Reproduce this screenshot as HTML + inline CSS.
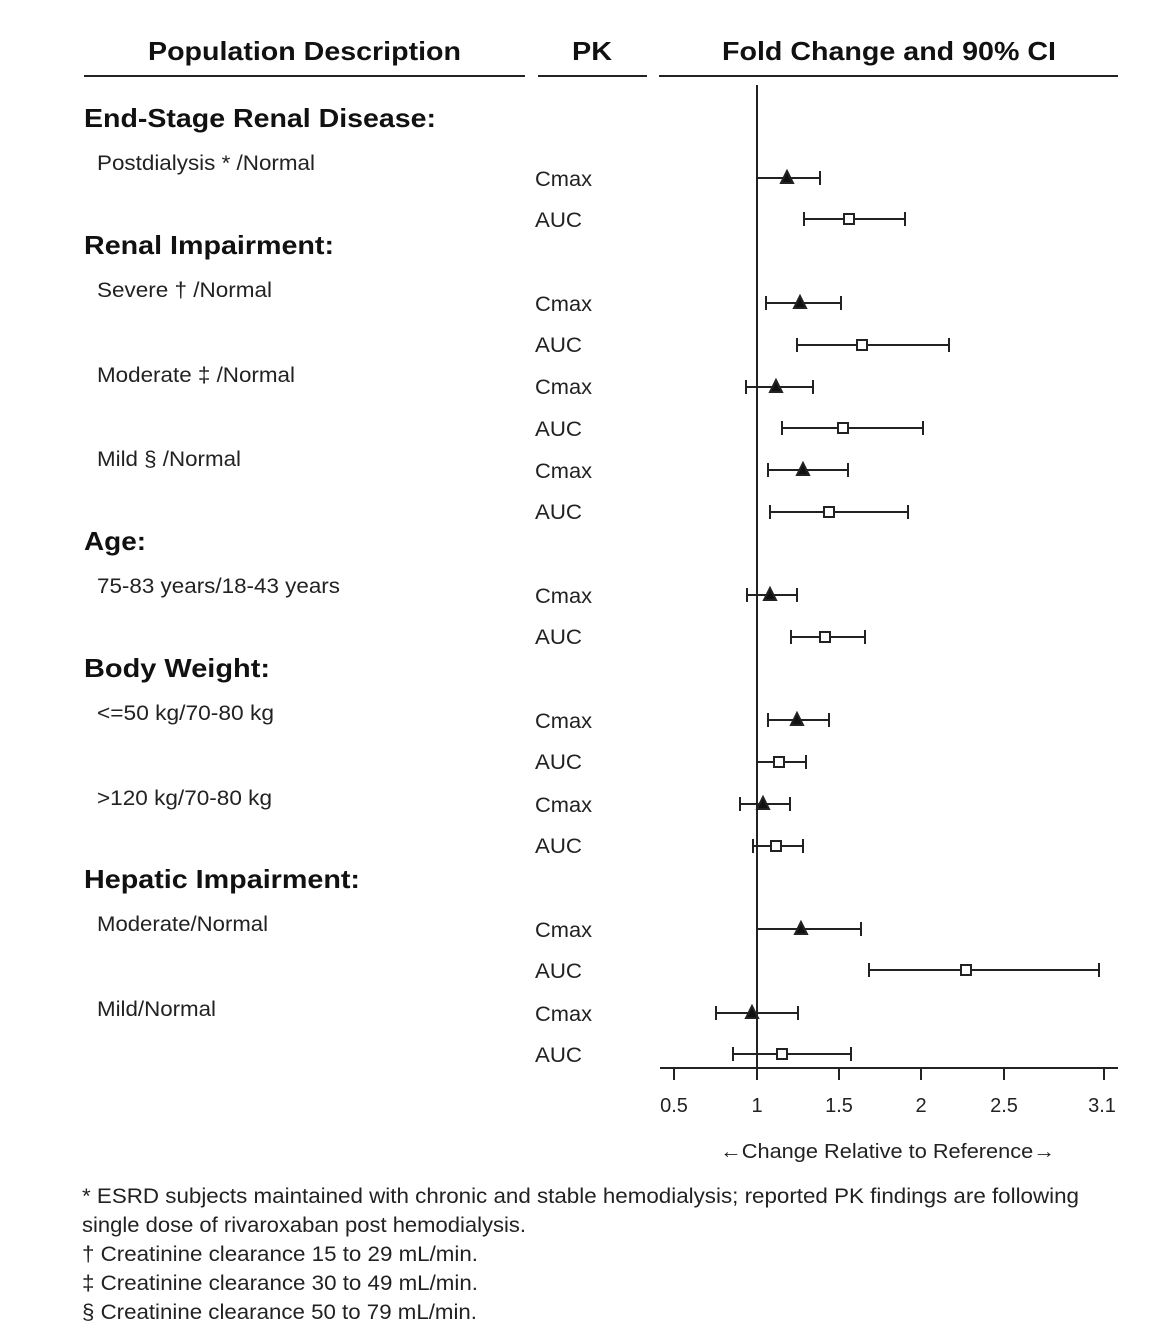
<!DOCTYPE html>
<html><head><meta charset="utf-8"><style>body{margin:0;background:#fff}svg{display:block}</style></head><body>
<svg width="1152" height="1339" xmlns="http://www.w3.org/2000/svg" font-family="Liberation Sans, Arial, sans-serif">
<rect width="1152" height="1339" fill="#fff"/>
<g font-size="26" font-weight="bold" fill="#111" lengthAdjust="spacingAndGlyphs">
<text x="148" y="60" textLength="313" lengthAdjust="spacingAndGlyphs">Population Description</text>
<text x="572" y="60" textLength="40" lengthAdjust="spacingAndGlyphs">PK</text>
<text x="722" y="60" textLength="334" lengthAdjust="spacingAndGlyphs">Fold Change and 90% CI</text>
</g>
<g stroke="#222" stroke-width="2">
<line x1="84" y1="76" x2="525" y2="76"/><line x1="538" y1="76" x2="647" y2="76"/><line x1="659" y1="76" x2="1118" y2="76"/>
</g>
<g font-size="26" font-weight="bold" fill="#111">
<text x="84" y="127" textLength="352" lengthAdjust="spacingAndGlyphs">End-Stage Renal Disease:</text>
<text x="84" y="254" textLength="250" lengthAdjust="spacingAndGlyphs">Renal Impairment:</text>
<text x="84" y="550" textLength="62" lengthAdjust="spacingAndGlyphs">Age:</text>
<text x="84" y="677" textLength="186" lengthAdjust="spacingAndGlyphs">Body Weight:</text>
<text x="84" y="888" textLength="276" lengthAdjust="spacingAndGlyphs">Hepatic Impairment:</text>
</g>
<g font-size="21" fill="#222">
<text x="97" y="170" textLength="218" lengthAdjust="spacingAndGlyphs">Postdialysis * /Normal</text>
<text x="97" y="297" textLength="175" lengthAdjust="spacingAndGlyphs">Severe † /Normal</text>
<text x="97" y="382" textLength="198" lengthAdjust="spacingAndGlyphs">Moderate ‡ /Normal</text>
<text x="97" y="466" textLength="144" lengthAdjust="spacingAndGlyphs">Mild § /Normal</text>
<text x="97" y="593" textLength="243" lengthAdjust="spacingAndGlyphs">75-83 years/18-43 years</text>
<text x="97" y="720" textLength="177" lengthAdjust="spacingAndGlyphs">&lt;=50 kg/70-80 kg</text>
<text x="97" y="805" textLength="175" lengthAdjust="spacingAndGlyphs">&gt;120 kg/70-80 kg</text>
<text x="97" y="931" textLength="171" lengthAdjust="spacingAndGlyphs">Moderate/Normal</text>
<text x="97" y="1016" textLength="119" lengthAdjust="spacingAndGlyphs">Mild/Normal</text>
</g>
<g font-size="21" fill="#222">
<text x="535" y="186" textLength="57" lengthAdjust="spacingAndGlyphs">Cmax</text><text x="535" y="227" textLength="47" lengthAdjust="spacingAndGlyphs">AUC</text>
<text x="535" y="311" textLength="57" lengthAdjust="spacingAndGlyphs">Cmax</text><text x="535" y="352" textLength="47" lengthAdjust="spacingAndGlyphs">AUC</text>
<text x="535" y="394" textLength="57" lengthAdjust="spacingAndGlyphs">Cmax</text><text x="535" y="436" textLength="47" lengthAdjust="spacingAndGlyphs">AUC</text>
<text x="535" y="478" textLength="57" lengthAdjust="spacingAndGlyphs">Cmax</text><text x="535" y="519" textLength="47" lengthAdjust="spacingAndGlyphs">AUC</text>
<text x="535" y="603" textLength="57" lengthAdjust="spacingAndGlyphs">Cmax</text><text x="535" y="644" textLength="47" lengthAdjust="spacingAndGlyphs">AUC</text>
<text x="535" y="728" textLength="57" lengthAdjust="spacingAndGlyphs">Cmax</text><text x="535" y="769" textLength="47" lengthAdjust="spacingAndGlyphs">AUC</text>
<text x="535" y="812" textLength="57" lengthAdjust="spacingAndGlyphs">Cmax</text><text x="535" y="853" textLength="47" lengthAdjust="spacingAndGlyphs">AUC</text>
<text x="535" y="937" textLength="57" lengthAdjust="spacingAndGlyphs">Cmax</text><text x="535" y="978" textLength="47" lengthAdjust="spacingAndGlyphs">AUC</text>
<text x="535" y="1021" textLength="57" lengthAdjust="spacingAndGlyphs">Cmax</text><text x="535" y="1062" textLength="47" lengthAdjust="spacingAndGlyphs">AUC</text>
</g>
<line x1="757" y1="85" x2="757" y2="1068" stroke="#222" stroke-width="2"/>
<g stroke="#222" stroke-width="2" fill="none">
<line x1="660" y1="1068" x2="1118" y2="1068"/>
<line x1="674" y1="1068" x2="674" y2="1080"/><line x1="757" y1="1068" x2="757" y2="1080"/><line x1="839" y1="1068" x2="839" y2="1080"/><line x1="921" y1="1068" x2="921" y2="1080"/><line x1="1004" y1="1068" x2="1004" y2="1080"/><line x1="1104" y1="1068" x2="1104" y2="1080"/>
</g>
<g font-size="20" fill="#222" text-anchor="middle">
<text x="674" y="1112">0.5</text><text x="757" y="1112">1</text><text x="839" y="1112">1.5</text><text x="921" y="1112">2</text><text x="1004" y="1112">2.5</text><text x="1102" y="1112">3.1</text>
</g>
<text x="720" y="1158" font-size="20" fill="#222" textLength="335" lengthAdjust="spacingAndGlyphs">←Change Relative to Reference→</text>
<g font-size="21" fill="#222">
<text x="82" y="1203" textLength="997" lengthAdjust="spacingAndGlyphs">* ESRD subjects maintained with chronic and stable hemodialysis; reported PK findings are following</text>
<text x="82" y="1232" textLength="444" lengthAdjust="spacingAndGlyphs">single dose of rivaroxaban post hemodialysis.</text>
<text x="82" y="1261" textLength="396" lengthAdjust="spacingAndGlyphs">† Creatinine clearance 15 to 29 mL/min.</text>
<text x="82" y="1290" textLength="396" lengthAdjust="spacingAndGlyphs">‡ Creatinine clearance 30 to 49 mL/min.</text>
<text x="82" y="1319" textLength="395" lengthAdjust="spacingAndGlyphs">§ Creatinine clearance 50 to 79 mL/min.</text>
</g>
<g stroke="#222" stroke-width="2" fill="#fff">
<path d="M757 178H820M757 171V185M820 171V185" fill="none"/><polygon points="787,171 781,183 793,183" fill="#111"/>
<path d="M804 219H905M804 212V226M905 212V226" fill="none"/><rect x="844" y="214" width="10" height="10"/>
<path d="M766 303H841M766 296V310M841 296V310" fill="none"/><polygon points="800,296 794,308 806,308" fill="#111"/>
<path d="M797 345H949M797 338V352M949 338V352" fill="none"/><rect x="857" y="340" width="10" height="10"/>
<path d="M746 387H813M746 380V394M813 380V394" fill="none"/><polygon points="776,380 770,392 782,392" fill="#111"/>
<path d="M782 428H923M782 421V435M923 421V435" fill="none"/><rect x="838" y="423" width="10" height="10"/>
<path d="M768 470H848M768 463V477M848 463V477" fill="none"/><polygon points="803,463 797,475 809,475" fill="#111"/>
<path d="M770 512H908M770 505V519M908 505V519" fill="none"/><rect x="824" y="507" width="10" height="10"/>
<path d="M747 595H797M747 588V602M797 588V602" fill="none"/><polygon points="770,588 764,600 776,600" fill="#111"/>
<path d="M791 637H865M791 630V644M865 630V644" fill="none"/><rect x="820" y="632" width="10" height="10"/>
<path d="M768 720H829M768 713V727M829 713V727" fill="none"/><polygon points="797,713 791,725 803,725" fill="#111"/>
<path d="M757 762H806M757 755V769M806 755V769" fill="none"/><rect x="774" y="757" width="10" height="10"/>
<path d="M740 804H790M740 797V811M790 797V811" fill="none"/><polygon points="763,797 757,809 769,809" fill="#111"/>
<path d="M753 846H803M753 839V853M803 839V853" fill="none"/><rect x="771" y="841" width="10" height="10"/>
<path d="M757 929H861M757 922V936M861 922V936" fill="none"/><polygon points="801,922 795,934 807,934" fill="#111"/>
<path d="M869 970H1099M869 963V977M1099 963V977" fill="none"/><rect x="961" y="965" width="10" height="10"/>
<path d="M716 1013H798M716 1006V1020M798 1006V1020" fill="none"/><polygon points="752,1006 746,1018 758,1018" fill="#111"/>
<path d="M733 1054H851M733 1047V1061M851 1047V1061" fill="none"/><rect x="777" y="1049" width="10" height="10"/>
</g>
</svg>
</body></html>
